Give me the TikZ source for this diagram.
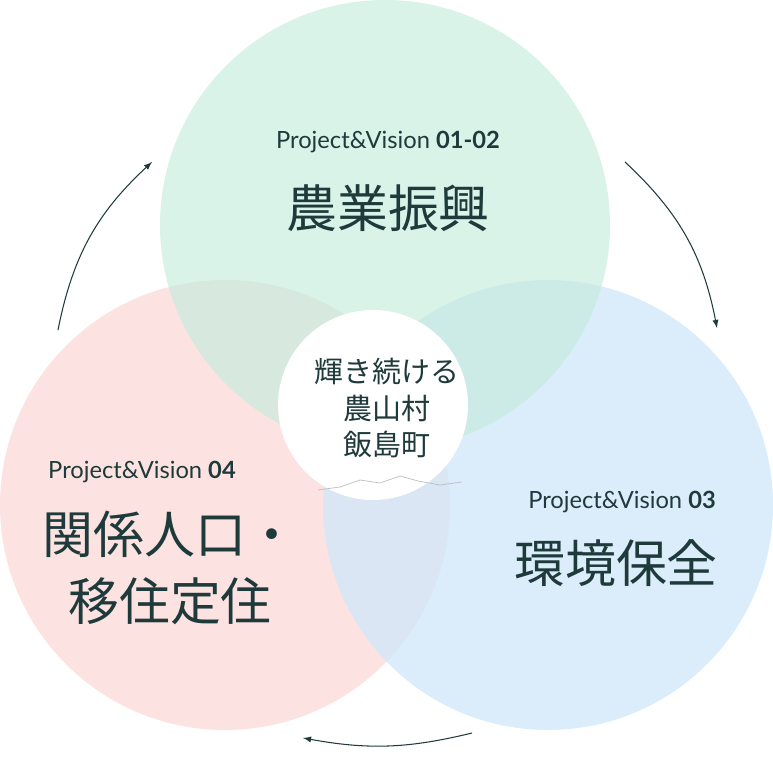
\documentclass[tikz,border=0pt]{standalone}
\usepackage{fontspec}
\setmainfont{Lato}
\newfontfamily\jp{Noto Sans CJK JP}
\usetikzlibrary{positioning}
\definecolor{leafgreen}{HTML}{C4ECDC}
\definecolor{petalpink}{HTML}{FBDCDA}
\definecolor{skyblue}{HTML}{D2E8FA}
\definecolor{inkteal}{HTML}{1E3A3A}
\tikzset{
  pv/.style={font=\fontsize{13.5}{16}\selectfont, text=inkteal},
  big/.style={font=\jp\fontsize{29}{38}\selectfont, text=inkteal, align=center},
  turn/.style={->, >=latex, inkteal, line width=0.6pt}
}
\begin{document}
\begin{tikzpicture}[x=0.02cm, y=-0.02cm]
\useasboundingbox (0,0) rectangle (773,759);

% circles %
\fill[petalpink, opacity=0.8] (225,505) circle (225);
\fill[skyblue, opacity=0.8] (548,505) circle (225);
\fill[leafgreen, opacity=0.65] (385,225) circle (225);
\node[circle, fill=white, minimum size=3.8cm, inner sep=0pt] (hub) at (373,405) {};

% texts %
\node[pv] (pv12) at (388,142) {Project\&Vision \textbf{01-02}};
\node[big] (agri) at (388,208) {農業振興};
\node[pv] (pv4) at (142,472) {Project\&Vision \textbf{04}};
\node[big] (reloc) at (170,568) {関係人口・\\移住定住};
\node[pv] (pv3) at (622,502) {Project\&Vision \textbf{03}};
\node[big] (envi) at (616,563) {環境保全};
\node[font=\jp\fontsize{16.5}{21}\selectfont, text=inkteal, align=center] (core) at (387,408) {輝き続ける\\農山村\\飯島町};

% mountains %
\draw[gray!50, line width=0.4pt] (318,490) -- (340,487) -- (360,480) -- (380,483) -- (400,476) -- (418,481) -- (440,485) -- (462,482);

% arrows %
\coordinate (a1s) at (58,330); \coordinate (a1e) at (152,162);
\coordinate (a2s) at (625,162); \coordinate (a2e) at (717,328);
\coordinate (a3s) at (472,733); \coordinate (a3e) at (303,738);
\draw[turn] (a1s) to[bend left=18] (a1e);
\draw[turn] (a2s) to[bend left=18] (a2e);
\draw[turn] (a3s) to[bend left=12] (a3e);

\end{tikzpicture}
\end{document}
